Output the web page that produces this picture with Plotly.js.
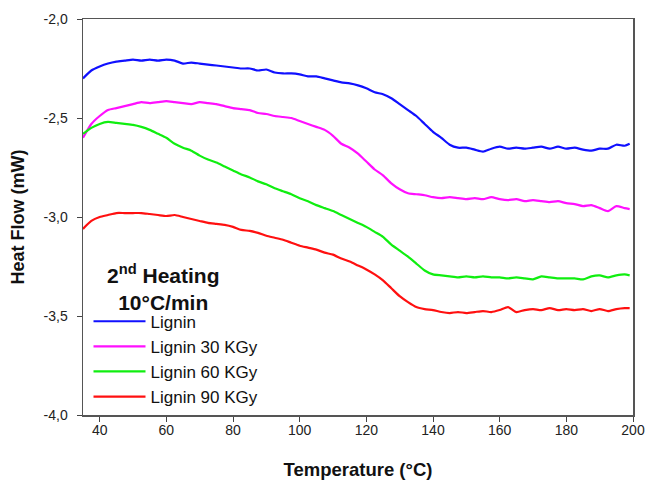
<!DOCTYPE html>
<html>
<head>
<meta charset="utf-8">
<script src="https://cdn.plot.ly/plotly-3.0.1.min.js"></script>
<style>html,body{margin:0;padding:0;background:#fff;}#chart{width:647px;height:481px;}</style>
</head>
<body>
<div id="chart"></div>
<script>
const temperature = [35, 37.5, 40, 42.5, 45, 47.5, 50, 52.5, 55, 57.5, 60, 62.5, 65, 67.5, 70, 72.5, 75, 77.5, 80, 82.5, 85, 87.5, 90, 92.5, 95, 97.5, 100, 102.5, 105, 107.5, 110, 112.5, 115, 117.5, 120, 122.5, 125, 127.5, 130, 132.5, 135, 137.5, 140, 142.5, 145, 147.5, 150, 152.5, 155, 157.5, 160, 162.5, 165, 167.5, 170, 172.5, 175, 177.5, 180, 182.5, 185, 187.5, 190, 192.5, 195, 197.5, 199];

const lignin = [-2.30, -2.26, -2.24, -2.225, -2.215, -2.21, -2.205, -2.21, -2.205, -2.21, -2.205, -2.21, -2.225, -2.22, -2.225, -2.23, -2.235, -2.24, -2.245, -2.25, -2.25, -2.26, -2.255, -2.27, -2.275, -2.275, -2.28, -2.29, -2.29, -2.30, -2.31, -2.32, -2.325, -2.335, -2.35, -2.37, -2.38, -2.40, -2.43, -2.46, -2.49, -2.53, -2.57, -2.60, -2.635, -2.65, -2.65, -2.66, -2.67, -2.655, -2.645, -2.655, -2.65, -2.655, -2.65, -2.645, -2.655, -2.645, -2.655, -2.65, -2.66, -2.665, -2.655, -2.655, -2.635, -2.64, -2.63];

const lignin30 = [-2.60, -2.53, -2.49, -2.46, -2.45, -2.44, -2.43, -2.42, -2.425, -2.42, -2.415, -2.42, -2.425, -2.43, -2.42, -2.425, -2.43, -2.44, -2.45, -2.455, -2.46, -2.475, -2.48, -2.49, -2.495, -2.50, -2.515, -2.53, -2.545, -2.56, -2.59, -2.63, -2.65, -2.68, -2.72, -2.76, -2.79, -2.83, -2.86, -2.88, -2.885, -2.89, -2.90, -2.905, -2.90, -2.905, -2.91, -2.905, -2.91, -2.90, -2.91, -2.915, -2.91, -2.92, -2.915, -2.92, -2.925, -2.92, -2.93, -2.935, -2.945, -2.94, -2.955, -2.97, -2.945, -2.955, -2.96];

const lignin60 = [-2.58, -2.55, -2.53, -2.52, -2.525, -2.53, -2.535, -2.545, -2.56, -2.58, -2.60, -2.63, -2.65, -2.665, -2.69, -2.71, -2.725, -2.745, -2.765, -2.785, -2.80, -2.82, -2.835, -2.855, -2.87, -2.885, -2.905, -2.92, -2.94, -2.955, -2.97, -2.99, -3.01, -3.03, -3.05, -3.075, -3.10, -3.14, -3.17, -3.20, -3.235, -3.27, -3.29, -3.295, -3.30, -3.305, -3.30, -3.305, -3.30, -3.305, -3.305, -3.31, -3.305, -3.31, -3.315, -3.30, -3.305, -3.31, -3.31, -3.31, -3.315, -3.30, -3.295, -3.305, -3.295, -3.29, -3.295];

const lignin90 = [-3.06, -3.02, -3.00, -2.99, -2.98, -2.98, -2.98, -2.98, -2.985, -2.99, -2.995, -2.99, -3.00, -3.01, -3.02, -3.03, -3.035, -3.04, -3.05, -3.065, -3.07, -3.08, -3.095, -3.105, -3.115, -3.13, -3.145, -3.155, -3.165, -3.18, -3.19, -3.21, -3.225, -3.245, -3.265, -3.29, -3.32, -3.36, -3.40, -3.43, -3.455, -3.465, -3.47, -3.48, -3.485, -3.48, -3.485, -3.48, -3.475, -3.48, -3.47, -3.455, -3.48, -3.47, -3.465, -3.47, -3.46, -3.47, -3.465, -3.47, -3.465, -3.475, -3.465, -3.475, -3.465, -3.46, -3.46];

const seriesNames = ["Lignin", "Lignin 30 KGy", "Lignin 60 KGy", "Lignin 90 KGy"];
const seriesColors = ["#1010ff", "#ff10ff", "#10ee10", "#ff1010"];
const seriesValues = [lignin, lignin30, lignin60, lignin90];

const yTickValues = [-4, -3.5, -3, -2.5, -2];
const yTickLabels = ["-4,0", "-3,5", "-3,0", "-2,5", "-2,0"];
const legendTitle = "<b>2<sup>nd</sup> Heating<br>10°C/min</b>";

const traces = seriesValues.map((vals, i) => ({
  x: temperature,
  y: vals,
  type: "scatter",
  mode: "lines",
  name: seriesNames[i],
  line: {color: seriesColors[i], width: 2.2, shape: "spline", smoothing: 0.6}
}));

const FONT = "Liberation Sans, Arial, sans-serif";
const axisFont = {family: FONT, size: 14, color: "#222"};

const layout = {
  width: 647,
  height: 481,
  margin: {l: 83, r: 14, t: 19, b: 66},
  paper_bgcolor: "#fff",
  plot_bgcolor: "#fff",
  showlegend: true,
  xaxis: {
    range: [35, 200],
    tick0: 40,
    dtick: 20,
    ticks: "outside",
    ticklen: 5,
    ticklabelstandoff: -3,
    tickcolor: "#444",
    showline: true,
    mirror: true,
    linecolor: "#555",
    linewidth: 1.5,
    showgrid: false,
    zeroline: false,
    tickfont: axisFont,
    title: {text: "<b>Temperature (°C)</b>", font: {family: FONT, size: 18.5, color: "#111"}, standoff: 26}
  },
  yaxis: {
    range: [-4, -2],
    tickvals: yTickValues,
    ticktext: yTickLabels,
    ticks: "outside",
    ticklen: 5,
    ticklabelstandoff: 6,
    tickcolor: "#444",
    showline: true,
    mirror: true,
    linecolor: "#555",
    linewidth: 1.5,
    showgrid: false,
    zeroline: false,
    tickfont: axisFont,
    title: {text: "<b>Heat Flow (mW)</b>", font: {family: FONT, size: 18, color: "#111"}, standoff: 14}
  },
  legend: {
    x: 0.01,
    xanchor: "left",
    y: 0.281,
    yanchor: "top",
    bgcolor: "rgba(0,0,0,0)",
    borderwidth: 0,
    tracegroupgap: 0,
    itemwidth: 52,
    font: {family: FONT, size: 17, color: "#111"}
  },
  annotations: [{
    text: legendTitle,
    xref: "paper", yref: "paper",
    x: 0.1455, y: 0.323,
    xanchor: "center", yanchor: "middle",
    align: "center",
    showarrow: false,
    font: {family: FONT, size: 21, color: "#111"}
  }]
};

Plotly.newPlot("chart", traces, layout, {staticPlot: true, displayModeBar: false});
</script>
</body>
</html>
